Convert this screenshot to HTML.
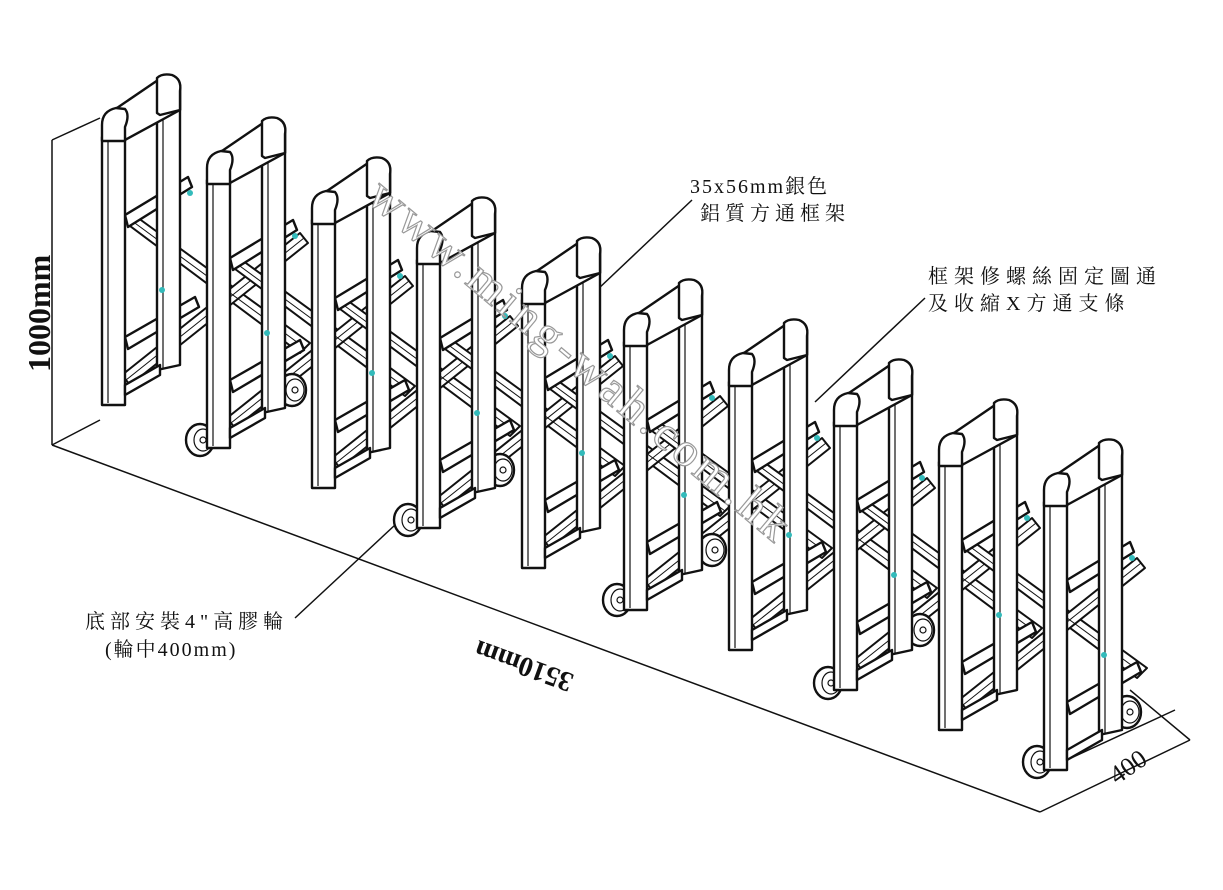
<!DOCTYPE html>
<html><head><meta charset="utf-8"><style>
html,body{margin:0;padding:0;background:#fff;}
svg{display:block}
text{font-family:"Liberation Serif","Noto Serif CJK SC",serif;fill:#111}
</style></head><body>
<svg width="1223" height="890" viewBox="0 0 1223 890" xmlns="http://www.w3.org/2000/svg">
<defs>
<g id="xb" fill="#fff" stroke="#111" stroke-width="2" stroke-linejoin="round">
  <polygon points="22,145 34,140 210,268 200,278"/>
  <polygon points="22,300 30,310 208,168 200,158"/>
  <line x1="28" y1="143" x2="205" y2="273" stroke-width="1"/>
  <line x1="26" y1="305" x2="204" y2="163" stroke-width="1"/>
</g>
<g id="fr" fill="#fff" stroke="#111" stroke-width="2.4" stroke-linejoin="round">
  <polygon points="25,140 88,102 92,112 28,152"/>
  <polygon points="25,262 95,222 99,232 28,274"/>
  <path d="M57,8 L57,295 L80,290 L80,10 Z"/>
  <line x1="63" y1="30" x2="63" y2="293" stroke-width="1.2"/>
  <path d="M14,35 L58,5 L80,12 L80,35 L25,65 Z"/>
  <path d="M57,3 Q62,-2 72,0 Q82,4 80,16 L80,35 L60,40 L57,38 Z"/>
  <path d="M2,62 L2,330 L25,330 L25,62 Z"/>
  <line x1="8" y1="66" x2="8" y2="328" stroke-width="1.2"/>
  <path d="M2,66 L2,50 Q2,36 16,33 L25,34 Q30,40 25,52 L25,66 Z"/>
  <polygon points="25,310 60,290 60,300 25,320"/>
  <circle cx="90" cy="118" r="3" fill="#3bb" stroke="none"/>
  <circle cx="62" cy="215" r="3" fill="#3bb" stroke="none"/>
</g>
<g id="wh" fill="#fff" stroke="#111" stroke-width="2.4">
  <ellipse cx="0" cy="0" rx="14" ry="16"/>
  <ellipse cx="3" cy="0" rx="9" ry="11" stroke-width="1.2"/>
  <circle cx="3" cy="0" r="3" stroke-width="1.2"/>
</g>
</defs>

<g stroke="#111" stroke-width="1.5" fill="none">
  <line x1="52" y1="140" x2="52" y2="445"/>
  <line x1="52" y1="140" x2="100" y2="118"/>
  <line x1="52" y1="445" x2="100" y2="420"/>
  <line x1="52" y1="445" x2="1040" y2="812"/>
  <line x1="1040" y1="812" x2="1190" y2="740"/>
  <line x1="1045" y1="770" x2="1175" y2="710"/>
  <line x1="1130" y1="690" x2="1190" y2="740"/>
  <line x1="295" y1="618" x2="395" y2="525"/>
  <line x1="692" y1="200" x2="597" y2="290"/>
  <line x1="925" y1="298" x2="815" y2="402"/>
</g>

<use href="#xb" x="100" y="75"/><use href="#xb" x="205" y="118"/><use href="#xb" x="310" y="158"/>
<use href="#xb" x="415" y="198"/><use href="#xb" x="520" y="238"/><use href="#xb" x="622" y="280"/>
<use href="#xb" x="727" y="320"/><use href="#xb" x="832" y="360"/><use href="#xb" x="937" y="400"/>
<use href="#fr" x="100" y="75"/>
<use href="#wh" x="292" y="390"/><use href="#wh" x="200" y="440"/>
<use href="#fr" x="205" y="118"/>
<use href="#fr" x="310" y="158"/>
<use href="#wh" x="500" y="470"/><use href="#wh" x="408" y="520"/>
<use href="#fr" x="415" y="198"/>
<use href="#fr" x="520" y="238"/>
<use href="#wh" x="712" y="550"/><use href="#wh" x="617" y="600"/>
<use href="#fr" x="622" y="280"/>
<use href="#fr" x="727" y="320"/>
<use href="#wh" x="920" y="630"/><use href="#wh" x="828" y="683"/>
<use href="#fr" x="832" y="360"/>
<use href="#fr" x="937" y="400"/>
<use href="#wh" x="1127" y="712"/><use href="#wh" x="1037" y="762"/>
<use href="#fr" x="1042" y="440"/>

<text x="0" y="0" transform="translate(365,200) rotate(40)" font-size="48" style="fill:#fff;stroke:#999;stroke-width:1.2" letter-spacing="4">www.ming-wah.com.hk</text>

<text transform="translate(50,372) rotate(-90)" font-size="32" font-weight="bold">1000mm</text>
<text transform="translate(575,675) rotate(200)" font-size="28" font-weight="bold">3510mm</text>
<text transform="translate(1117,785) rotate(-35)" font-size="26">400</text>

<text x="690" y="193" font-size="20" letter-spacing="2">35x56mm銀色</text>
<text x="700" y="220" font-size="20" letter-spacing="5">鋁質方通框架</text>
<text x="928" y="283" font-size="20" letter-spacing="6">框架修螺絲固定圖通</text>
<text x="928" y="310" font-size="20" letter-spacing="6">及收縮X方通支條</text>
<text x="85" y="628" font-size="20" letter-spacing="5">底部安裝4"高膠輪</text>
<text x="105" y="656" font-size="20" letter-spacing="2">(輪中400mm)</text>
</svg>
</body></html>
